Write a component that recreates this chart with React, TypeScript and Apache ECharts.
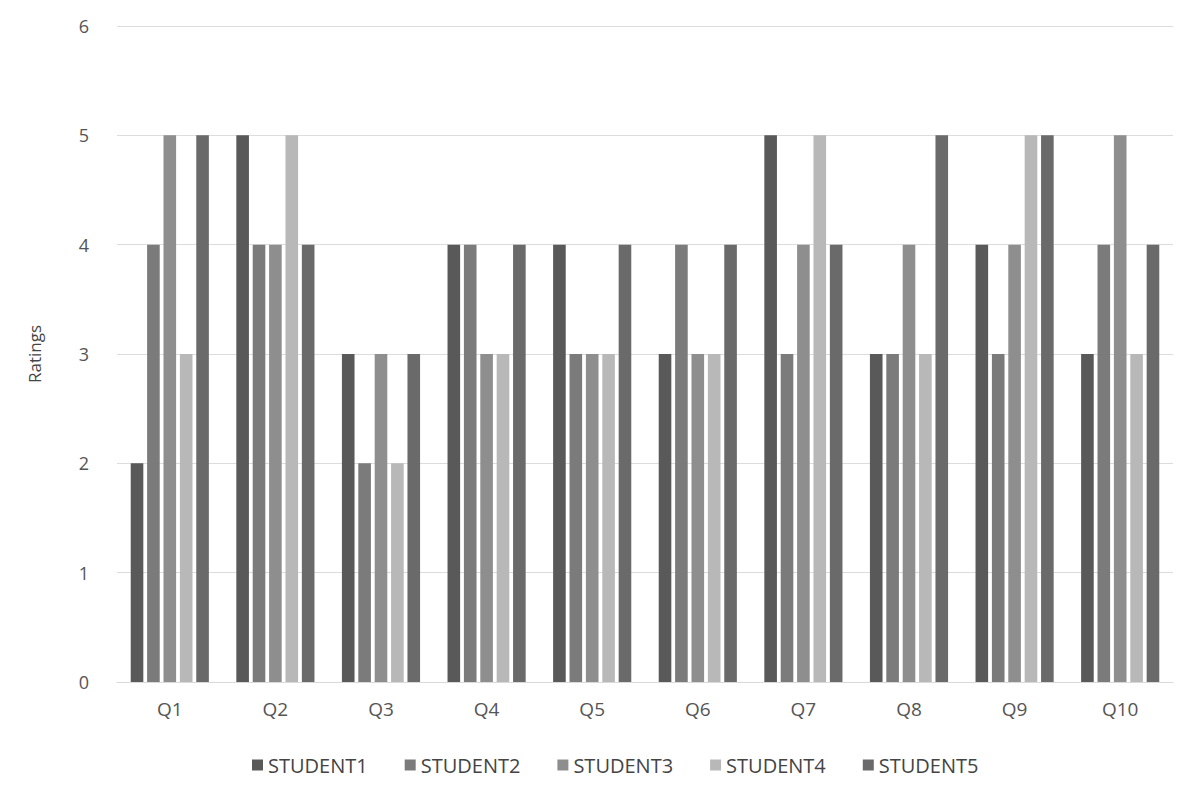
import React, { useEffect, useRef } from "react";
import * as echarts from "echarts";

const categories = ["Q1", "Q2", "Q3", "Q4", "Q5", "Q6", "Q7", "Q8", "Q9", "Q10"];
const student1 = [2, 5, 3, 4, 4, 3, 5, 3, 4, 3];
const student2 = [4, 4, 2, 4, 3, 4, 3, 3, 3, 4];
const student3 = [5, 4, 3, 3, 3, 3, 4, 4, 4, 5];
const student4 = [3, 5, 2, 3, 3, 3, 5, 3, 5, 3];
const student5 = [5, 4, 3, 4, 4, 4, 4, 5, 5, 4];
const seriesNames = ["STUDENT1", "STUDENT2", "STUDENT3", "STUDENT4", "STUDENT5"];
const seriesColors = ["#595959", "#7b7b7b", "#8e8e8e", "#b8b8b8", "#6a6a6a"];

export default function App() {
  const ref = useRef<HTMLDivElement>(null);
  useEffect(() => {
    const chart = echarts.init(ref.current!, undefined, { renderer: "svg" });
    const data = [student1, student2, student3, student4, student5];
    const font = "'Open Sans', 'Liberation Sans', sans-serif";
    chart.setOption({
      animation: false,
      backgroundColor: "#ffffff",
      textStyle: { fontFamily: font },
      grid: { left: 117, right: 4, top: 26, bottom: 123 },
      legend: {
        bottom: 25,
        left: 247,
        itemWidth: 11,
        itemHeight: 11,
        itemGap: 37,
        icon: "rect",
        textStyle: { color: "#444", fontSize: 20, fontFamily: font },
        data: seriesNames,
      },
      xAxis: {
        type: "category",
        data: categories,
        axisLine: { lineStyle: { color: "#d9d9d9" } },
        axisTick: { show: false },
        axisLabel: { color: "#555", fontSize: 19, margin: 17 },
      },
      yAxis: {
        type: "value",
        min: 0,
        max: 6,
        interval: 1,
        name: "Ratings",
        nameLocation: "middle",
        nameGap: 74,
        nameTextStyle: { color: "#444", fontSize: 17 },
        axisLine: { show: false },
        axisTick: { show: false },
        axisLabel: { color: "#555", fontSize: 18, margin: 28 },
        splitLine: { lineStyle: { color: "#dcdcdc" } },
      },
      series: seriesNames.map((name, i) => ({
        name,
        type: "bar",
        data: data[i],
        barGap: "30%",
        barCategoryGap: "26%",
        itemStyle: { color: seriesColors[i] },
      })),
    });
    return () => chart.dispose();
  }, []);
  return <div ref={ref} style={{ width: 1177, height: 805, position: "absolute", left: 0, top: 0 }} />;
}
